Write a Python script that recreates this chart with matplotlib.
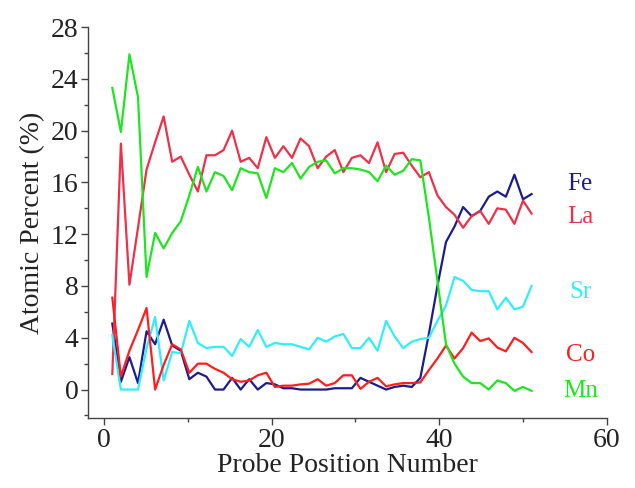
import numpy as np
import matplotlib.pyplot as plt
from matplotlib.ticker import MultipleLocator

plt.rcParams['font.family'] = ['Liberation Serif', 'DejaVu Serif']

# probe positions (50 points)
positions = np.linspace(1, 51, 50)

# atomic percent for each element
fe = [5.1, 0.6, 2.5, 0.5, 4.5, 3.5, 5.4, 3.4, 3.0, 0.8,
      1.3, 1.0, 0.0, 0.0, 0.9, 0.0, 0.8, 0.0, 0.5, 0.4,
      0.1, 0.1, 0.0, 0.0, 0.0, 0.0, 0.1, 0.1, 0.1, 0.9,
      0.6, 0.3, 0.0, 0.2, 0.3, 0.2, 0.9, 4.3, 8.0, 11.4,
      12.6, 14.1, 13.4, 13.8, 14.9, 15.3, 14.9, 16.6, 14.7, 15.1]
la = [1.2, 19.0, 8.1, 12.5, 17.0, 19.1, 21.1, 17.6, 18.0, 16.6,
      15.3, 18.1, 18.1, 18.5, 20.0, 17.6, 17.9, 17.1, 19.5, 17.9,
      18.8, 17.9, 19.4, 18.8, 17.1, 18.0, 18.5, 16.8, 17.9, 18.1,
      17.5, 19.1, 16.8, 18.2, 18.3, 17.3, 16.4, 16.8, 15.0, 14.1,
      13.5, 12.5, 13.4, 13.8, 12.8, 14.0, 13.9, 12.8, 14.6, 13.6]
sr = [4.2, 0.0, 0.0, 0.0, 3.2, 5.6, 0.7, 2.9, 2.8, 5.3,
      3.6, 3.2, 3.3, 3.3, 2.6, 3.9, 3.3, 4.6, 3.3, 3.6,
      3.5, 3.5, 3.3, 3.1, 4.0, 3.7, 4.1, 4.3, 3.2, 3.2,
      4.0, 3.0, 5.3, 4.1, 3.2, 3.7, 3.9, 4.0, 5.3, 6.5,
      8.7, 8.4, 7.7, 7.6, 7.6, 6.2, 7.1, 6.2, 6.4, 8.0]
co = [7.1, 1.0, 3.0, 4.6, 6.3, 0.0, 1.9, 3.5, 3.1, 1.3,
      2.0, 2.0, 1.6, 1.3, 0.8, 0.6, 0.7, 1.1, 1.3, 0.2,
      0.3, 0.3, 0.4, 0.45, 0.8, 0.3, 0.5, 1.1, 1.1, 0.05,
      0.6, 0.9, 0.25, 0.4, 0.5, 0.5, 0.55, 1.5, 2.4, 3.4,
      2.4, 3.2, 4.4, 3.75, 3.95, 3.25, 2.95, 4.0, 3.6, 2.9]
mn = [23.3, 19.9, 25.9, 22.6, 8.7, 12.1, 10.9, 12.1, 13.0, 15.0,
      17.2, 15.3, 16.8, 16.5, 15.4, 17.1, 16.8, 16.7, 14.8, 17.1,
      16.8, 17.5, 16.3, 17.2, 17.6, 17.7, 16.7, 17.1, 17.1, 17.0,
      16.8, 16.1, 17.3, 16.6, 16.9, 17.8, 17.7, 13.3, 8.4, 3.5,
      2.0, 1.0, 0.5, 0.5, 0.0, 0.7, 0.5, -0.1, 0.2, -0.1]

elements = ['Fe', 'La', 'Sr', 'Co', 'Mn']
series = [fe, la, sr, co, mn]
colors = ['#1c1c8c', '#f03048', '#30eefc', '#ff1e1e', '#1ee61e']
label_y = [15.9, 13.3, 7.5, 2.7, -0.1]

fig = plt.figure(figsize=(6.35, 4.88), dpi=100)
ax = fig.add_axes([0.1386, 0.1434, 0.8173, 0.801])

for vals, c in zip(series, colors):
    ax.plot(positions, vals, color=c, lw=1.6)

for name, c, yy in zip(elements, colors, label_y):
    ax.text(56.8, yy, name, color=c, fontsize=18, ha='center', va='center')

ax.set_xlim(-1.9, 60)
ax.set_ylim(-2.2, 28)
ax.xaxis.set_major_locator(MultipleLocator(20))
ax.xaxis.set_minor_locator(MultipleLocator(10))
ax.yaxis.set_major_locator(MultipleLocator(4))
ax.yaxis.set_minor_locator(MultipleLocator(2))

ax.spines['top'].set_visible(False)
ax.spines['right'].set_visible(False)
for s in ['left', 'bottom']:
    ax.spines[s].set_color('#444444')
    ax.spines[s].set_linewidth(1.0)

ax.tick_params(which='major', direction='out', length=5, width=1, color='#444444',
               labelsize=20, labelcolor='#222222', pad=2)
ax.tick_params(which='minor', direction='out', length=3, width=1, color='#444444')

ax.set_xlabel('Probe Position Number', fontsize=20, color='#222222', labelpad=0)
ax.set_ylabel('Atomic Percent (%)', fontsize=20, color='#222222', labelpad=4)

fig.savefig('out.png', dpi=100)
